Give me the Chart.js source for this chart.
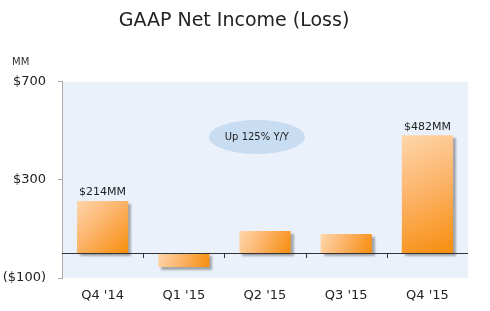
<!DOCTYPE html>
<html>
<head>
<meta charset="utf-8">
<script src="https://cdn.jsdelivr.net/npm/chart.js@4"></script>
<style>
  html, body { margin: 0; padding: 0; background: #fff; }
  #wrap { width: 490px; height: 311px; position: relative; }
</style>
</head>
<body>
<div id="wrap"><canvas id="incomeChart"></canvas></div>
<script>
const quarters = ["Q4 '14", "Q1 '15", "Q2 '15", "Q3 '15", "Q4 '15"];
const netIncome = [214, -55, 92, 79, 482];
const valueLabels = ["$214MM", null, null, null, "$482MM"];
const yTickValues = [-100, 300, 700];
const yTickText = { "700": "$700", "300": "$300", "-100": "($100)" };
const noteText = "Up 125% Y/Y";

const FONT = "'DejaVu Sans', Verdana, sans-serif";
const BAR_PCT = 0.63;

// light blue plot background, zero line, note bubble, labels
const decorPlugin = {
    id: "decor",
    beforeDraw(chart) {
        const { ctx, chartArea: a } = chart;
        ctx.save();
        ctx.fillStyle = "#eaf1fb";
        ctx.fillRect(a.left, a.top, a.right - a.left, a.bottom - a.top);
        ctx.fillStyle = "#333";
        ctx.font = "10px " + FONT;
        ctx.textAlign = "left";
        ctx.textBaseline = "middle";
        ctx.fillText("MM", 12, 62);
        ctx.restore();
    },
    beforeDatasetsDraw(chart) {
        const { ctx, scales } = chart;
        const cx = scales.x.getPixelForValue(1.9);
        const cy = scales.y.getPixelForValue(475);
        ctx.save();
        ctx.fillStyle = "#c8ddf2";
        ctx.beginPath();
        ctx.ellipse(cx, cy, 48, 17, 0, 0, Math.PI * 2);
        ctx.fill();
        ctx.fillStyle = "#222";
        ctx.font = "10px " + FONT;
        ctx.textAlign = "center";
        ctx.textBaseline = "middle";
        ctx.fillText(noteText, cx, cy);
        ctx.restore();
    },
    afterDatasetsDraw(chart) {
        const { ctx, chartArea: a, scales } = chart;
        const x = scales.x, y = scales.y;
        const y0 = Math.round(y.getPixelForValue(0));
        ctx.save();
        ctx.strokeStyle = "#333";
        ctx.lineWidth = 1;
        ctx.beginPath();
        ctx.moveTo(a.left, y0 + 0.5);
        ctx.lineTo(a.right, y0 + 0.5);
        for (let i = 1; i < quarters.length; i++) {
            const px = Math.round(x.getPixelForValue(i - 0.5)) + 0.5;
            ctx.moveTo(px, y0);
            ctx.lineTo(px, y0 + 5);
        }
        ctx.stroke();

        const meta = chart.getDatasetMeta(0);
        ctx.fillStyle = "#222";
        ctx.font = "11px " + FONT;
        ctx.textAlign = "center";
        ctx.textBaseline = "bottom";
        meta.data.forEach((bar, i) => {
            if (valueLabels[i]) ctx.fillText(valueLabels[i], bar.x, bar.y - 3);
        });
        ctx.restore();
    },
    beforeDatasetDraw(chart) {
        const ctx = chart.ctx;
        ctx.save();
        ctx.shadowColor = "rgba(90,90,90,0.5)";
        ctx.shadowOffsetX = 3;
        ctx.shadowOffsetY = 3;
        ctx.shadowBlur = 2;
    },
    afterDatasetDraw(chart) {
        chart.ctx.restore();
    }
};

// diagonal peach-to-orange gradient per bar, built from the scales
function barGradient(context) {
    const chart = context.chart;
    const x = chart.scales.x, y = chart.scales.y;
    if (!x || !y || !chart.chartArea || context.dataIndex === undefined) return "#f9a24a";
    const i = context.dataIndex;
    const cx = x.getPixelForValue(i);
    const half = (x.width / quarters.length) * BAR_PCT / 2;
    const yv = y.getPixelForValue(netIncome[i]);
    const y0 = y.getPixelForValue(0);
    if (!isFinite(cx) || !isFinite(yv)) return "#f9a24a";
    const g = chart.ctx.createLinearGradient(cx - half, Math.min(yv, y0), cx + half, Math.max(yv, y0));
    g.addColorStop(0, "#fed6ab");
    g.addColorStop(0.45, "#fcb46a");
    g.addColorStop(1, "#f78d0c");
    return g;
}

new Chart(document.getElementById("incomeChart"), {
    type: "bar",
    data: {
        labels: quarters,
        datasets: [{
            data: netIncome,
            backgroundColor: barGradient,
            borderWidth: 0,
            barPercentage: BAR_PCT,
            categoryPercentage: 1
        }]
    },
    options: {
        responsive: true,
        maintainAspectRatio: false,
        animation: false,
        layout: { padding: { left: 0, right: 22, top: 0, bottom: 0 } },
        plugins: {
            legend: { display: false },
            tooltip: { enabled: false },
            title: {
                display: true,
                text: "GAAP Net Income (Loss)",
                color: "#222",
                font: { family: FONT, size: 19, weight: "normal" },
                padding: { top: 10, bottom: 49 }
            }
        },
        scales: {
            x: {
                afterFit(scale) { scale.height = 33; },
                grid: { display: false, drawTicks: false },
                border: { display: false },
                ticks: { color: "#222", padding: 10, font: { family: FONT, size: 13 } }
            },
            y: {
                min: -100,
                max: 700,
                afterBuildTicks(scale) {
                    scale.ticks = yTickValues.map(v => ({ value: v }));
                },
                afterFit(scale) { scale.width = 62; },
                grid: { drawOnChartArea: false, tickLength: 4, color: "#aaa" },
                border: { color: "#aaa" },
                ticks: {
                    color: "#222",
                    padding: 12,
                    font: { family: FONT, size: 13 },
                    callback: v => yTickText[String(v)]
                }
            }
        }
    },
    plugins: [decorPlugin]
});
</script>
</body>
</html>
